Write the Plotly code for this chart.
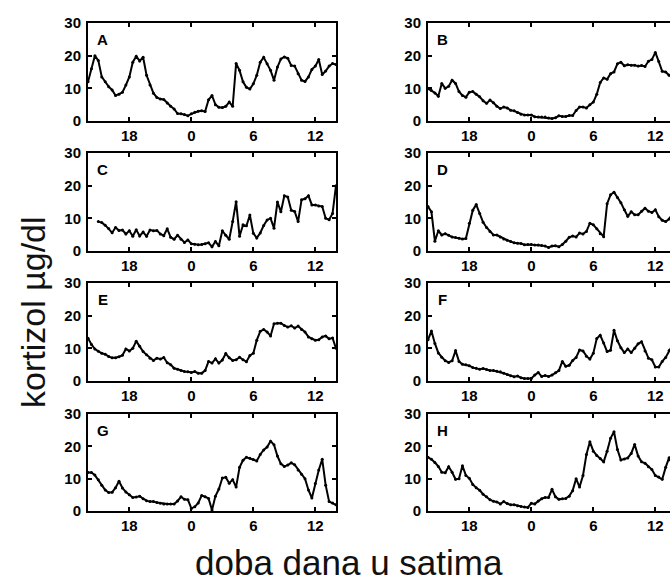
import numpy as np
import plotly.graph_objects as go

# sampling times (hours since midnight of day 1, 20-minute sampling, 14:00 -> 14:00 next day)
hours = list(np.round(np.arange(14, 38.0001, 1/3), 4))
tick_vals = [18, 24, 30, 36]
tick_text = ["18", "0", "6", "12"]
y_ticks = [0, 10, 20, 30]
panel_labels = ["A", "B", "C", "D", "E", "F", "G", "H"]

cort_A = [12, 16, 20, 18.5, 13.5, 12, 10.5, 9.5, 7.8, 8.2, 8.8, 11,
          13.5, 18, 19.8, 18.4, 19.5, 14, 11, 8.5, 7.2, 6.7, 6.6, 5.5,
          4.5, 3.7, 2.3, 2.2, 2.0, 1.6, 2.2, 2.7, 3.0, 3.1, 2.9, 6.5,
          7.8, 5, 4.2, 4.1, 4.5, 5.8, 4.5, 17.6, 15.5, 12, 10.3, 9.8,
          11.4, 14, 18, 19.5, 17.5, 15.5, 12.5, 16.5, 19, 19.6, 19.2, 17,
          16.8, 14.5, 12.5, 12.1, 13.5, 15.8, 16.8, 18.8, 14.2, 15.3, 16.8, 17.6,
          17.3]
cort_B = [9.9, 9.3, 8.6, 7.6, 11.5, 10, 10.6, 12.5, 11.5, 9, 7.8, 7.3,
          8.8, 9.0, 8.2, 7.4, 6.2, 5.4, 6.4, 5.6, 4.5, 3.8, 4.3, 4.0,
          3.3, 3.1, 2.6, 2.1, 1.8, 1.8, 1.8, 1.3, 1.2, 1.2, 1.2, 0.9,
          0.8, 1.0, 1.6, 1.4, 1.4, 1.7, 1.7, 3.2, 4.3, 4.3, 4.0, 5.0,
          5.8, 8.2, 11.8, 13.2, 12.8, 14.5, 15, 17.5, 18, 16.9, 17.2, 17.1,
          17.1, 16.8, 17, 16.7, 18.3, 18.8, 21, 18.2, 15.2, 15, 14, 13.6,
          13.8]
cort_C = [None, None, None, 9.0, 8.7, 7.9, 6.9, 5.6, 7.2, 6.3, 6.4, 5.2,
          6.2, 4.5, 6.5, 4.6, 5.8, 4.5, 6.4, 6.2, 6.3, 5.2, 4.7, 6.8,
          4.2, 3.6, 4.8, 3.6, 2.6, 3.4, 2.2, 2.1, 1.9, 2.0, 2.2, 2.5,
          1.3, 2.9, 1.6, 6.2, 4.8, 3.6, 9.0, 15.1, 4.5, 8.0, 7.7, 11.0,
          5.4, 4.0, 5.5, 7.8, 9.5, 10.0, 7.0, 15, 12, 16.9, 16.5, 12.5,
          12.1, 9.0, 15.7, 16, 16.9, 14.1, 14.1, 13.8, 13.6, 10.0, 9.6, 11.5,
          20]
cort_D = [13.6, 12, 3.0, 6.2, 4.9, 5.3, 4.8, 4.3, 4.1, 3.9, 3.7, 3.8,
          8.5, 12.5, 14.2, 11.5, 8.8, 7.2, 6.0, 4.9, 4.9, 4.3, 3.7, 3.3,
          2.9, 2.5, 2.4, 2.3, 1.9, 2.0, 2.0, 1.8, 1.8, 1.7, 1.5, 1.1,
          1.5, 1.6, 1.3, 2.0, 3.0, 4.2, 4.6, 4.3, 5.5, 5.2, 6.0, 8.5,
          8.0, 6.8, 5.3, 4.4, 14.5, 17.2, 18.0, 16.4, 14.8, 12.6, 10.6, 12.0,
          11.1, 11.1, 12.2, 13.1, 12.2, 11.8, 12.6, 10.5, 9.4, 9.0, 9.8, 11.5,
          12]
cort_E = [13.1, 11.2, 9.8, 9.1, 8.5, 8.2, 7.5, 7.1, 7.1, 7.4, 7.9, 9.8,
          9.2, 10.0, 12.2, 10.6, 9.0, 8.0, 7.0, 6.3, 7.0, 6.7, 7.2, 5.6,
          5.0, 3.9, 3.6, 3.2, 2.9, 2.8, 2.6, 2.9, 2.4, 2.4, 3.2, 6.0,
          5.5, 6.8, 5.5, 6.4, 8.4, 7.1, 6.3, 6.5, 7.3, 6.5, 5.9, 7.8,
          8.5, 12.5, 15.2, 15.8, 15.0, 13.8, 17.5, 17.7, 17.7, 17.0, 16.5, 16.9,
          16.2, 16.8, 15.8, 15.0, 13.5, 12.9, 12.5, 12.6, 13.5, 13.8, 12.9, 13.2,
          10.0]
cort_F = [12.6, 15.3, 11.5, 8.6, 7.3, 6.2, 5.7, 6.2, 9.3, 6.0, 5.1, 5.0,
          4.7, 4.1, 3.9, 3.6, 3.8, 3.5, 3.2, 3.2, 3.0, 2.8, 2.4, 2.0,
          1.6, 1.3, 1.5, 1.0, 0.8, 0.8, 0.8, 1.8, 2.6, 1.4, 1.7, 1.4,
          1.8, 2.5, 3.2, 6.0, 4.5, 4.8, 6.3, 7.2, 9.5, 9.2, 7.6, 6.7,
          8.5, 13, 14.0, 11.6, 9.0, 9.4, 15.5, 12.3, 10.2, 8.7, 9.8, 8.7,
          10.0, 11.4, 12.0, 9.2, 7.0, 6.5, 4.3, 4.3, 6.0, 7.2, 9.3, 11.0,
          11.5]
cort_G = [11.9, 11.9, 11.1, 9.7, 8.0, 6.5, 5.7, 5.8, 7.2, 9.2, 7.1, 5.9,
          5.0, 4.2, 4.3, 4.6, 3.8, 3.2, 2.9, 2.9, 2.6, 2.4, 2.2, 2.2,
          2.2, 2.2, 3.1, 4.4, 3.6, 3.5, 0.8, 1.3, 2.5, 4.8, 4.4, 3.9,
          0.3, 4.6, 6.8, 10.2, 10.4, 8.6, 9.7, 7.4, 13.5, 15.7, 16.6, 16.3,
          15.9, 15.5, 17.5, 18.9, 19.8, 21.6, 20.5, 17, 14.6, 13.8, 14.2, 14.9,
          14.3, 12.7, 11.4, 10.0, 6.5, 4.0, 8.5, 12.7, 16.0, 8.0, 2.9, 2.5,
          1.9]
cort_H = [16.6, 16.0, 15.0, 13.8, 12.0, 11.8, 13.7, 12.0, 9.8, 10, 14.0, 11.0,
          10.1, 8.2, 7.2, 6.4, 5.2, 4.4, 3.5, 3.0, 2.8, 2.2, 2.9, 2.3,
          1.9, 1.9, 1.6, 1.4, 1.2, 1.1, 2.4, 2.2, 3.1, 3.8, 4.2, 4.2,
          6.7, 4.4, 3.6, 3.8, 3.9, 4.6, 6.3, 10.0, 7.4, 11.0, 17.5, 21.4,
          18.5, 17.2, 16.2, 15.2, 18.5, 22.5, 24.5, 19.0, 15.8, 16.1, 16.4, 17.8,
          20.6, 17.0, 15.2, 14.8, 13.7, 12.8, 11.0, 10.5, 9.8, 13.5, 16.5, 14.2,
          14.0]

series = [cort_A, cort_B, cort_C, cort_D, cort_E, cort_F, cort_G, cort_H]

W, H = 670, 583


def fx(p):
    return p / W


def fy(p):
    return 1 - p / H


x_dom_left = [fx(88), fx(336)]
x_dom_right = [fx(428), 1.0]
px_per_hour = (336 - 88) / 24.0
right_end = 14 + (W - 428) / px_per_hour
row_px = [(23, 121), (153, 251), (283, 381), (414, 511)]
y_doms = [[fy(b), fy(t)] for (t, b) in row_px]

fig = go.Figure()
tick_font = dict(family="Liberation Sans, Arial", size=15, color="black", weight="bold")
layout = dict(width=W, height=H, margin=dict(l=0, r=0, t=0, b=0, autoexpand=False),
              paper_bgcolor="white", plot_bgcolor="white", showlegend=False)
annotations = []

for i, vals in enumerate(series):
    r, c = divmod(i, 2)
    n = i + 1
    xa = "xaxis" if n == 1 else f"xaxis{n}"
    ya = "yaxis" if n == 1 else f"yaxis{n}"
    xr = "x" if n == 1 else f"x{n}"
    yr = "y" if n == 1 else f"y{n}"
    fig.add_trace(go.Scatter(x=hours, y=vals, xaxis=xr, yaxis=yr, mode="lines+markers",
                             line=dict(color="black", width=2), marker=dict(size=3, color="black"),
                             connectgaps=False, cliponaxis=True))
    layout[xa] = dict(domain=x_dom_left if c == 0 else x_dom_right, anchor=yr,
                      range=[14, 38] if c == 0 else [14, right_end],
                      tickvals=tick_vals, ticktext=tick_text, ticks="inside", ticklen=4,
                      tickwidth=1.5, tickcolor="black", showline=True, linecolor="black",
                      linewidth=2, mirror="ticks", showgrid=False, zeroline=False,
                      tickfont=tick_font, fixedrange=True, automargin=False)
    layout[ya] = dict(domain=y_doms[r], anchor=xr, range=[0, 30], tickvals=y_ticks,
                      ticks="inside", ticklen=4, tickwidth=1.5, tickcolor="black",
                      showline=True, linecolor="black", linewidth=2,
                      mirror="ticks" if c == 0 else False, showgrid=False, zeroline=False,
                      tickfont=tick_font, ticklabelstandoff=2, automargin=False,
                      fixedrange=True)
    annotations.append(dict(text=panel_labels[i], xref=f"{xr} domain", yref=f"{yr} domain",
                            x=0.06, y=0.83, xanchor="center", yanchor="middle", showarrow=False,
                            font=dict(family="Liberation Sans, Arial", size=15, color="black",
                                      weight="bold")))

annotations.append(dict(text="kortizol µg/dl", xref="paper", yref="paper", x=fx(33),
                        y=fy(312), textangle=-90, showarrow=False, xanchor="center",
                        yanchor="middle",
                        font=dict(family="Liberation Sans, Arial", size=34, color="#111111")))
annotations.append(dict(text="doba dana u satima", xref="paper", yref="paper", x=fx(349),
                        y=fy(562), showarrow=False, xanchor="center", yanchor="middle",
                        font=dict(family="Liberation Sans, Arial", size=35, color="#111111")))
layout["annotations"] = annotations
fig.update_layout(**layout)
fig.write_html("out.html", config={"displayModeBar": False},
               post_script="document.body.style.margin='0';document.body.style.overflow='hidden';")
